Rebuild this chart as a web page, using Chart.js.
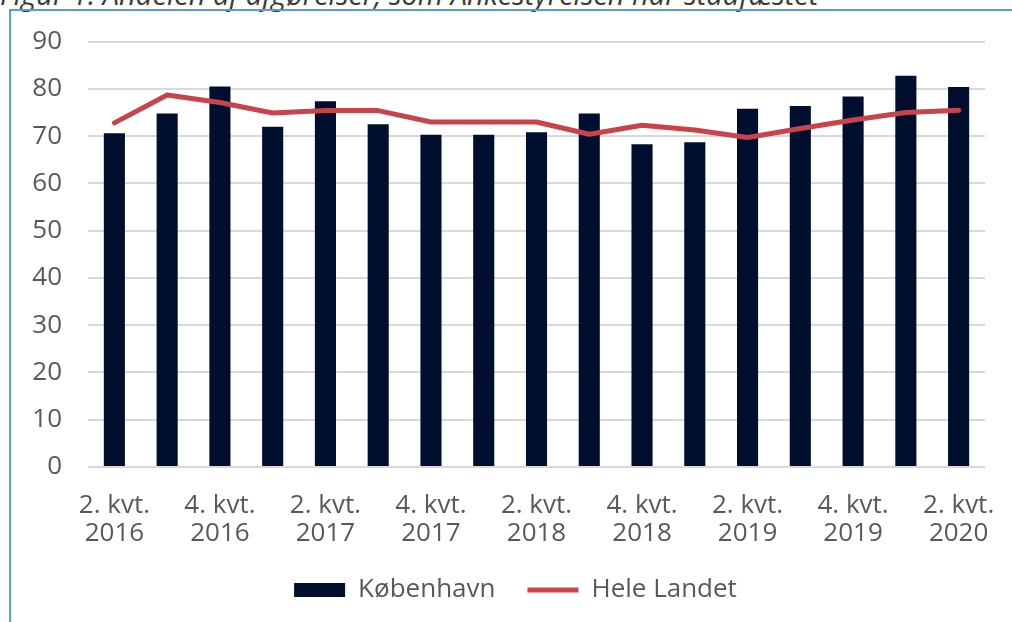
<!DOCTYPE html>
<html>
<head>
<meta charset="utf-8">
<script src="https://cdn.jsdelivr.net/npm/chart.js@4"></script>
<style>
  html, body { margin: 0; padding: 0; background: #fff; overflow: hidden; }
  #wrap { position: relative; width: 1012px; height: 622px; overflow: hidden; }
  #title {
    position: absolute; left: 0; top: -26px; white-space: nowrap; line-height: 29px;
    font: italic 29px "Open Sans", sans-serif; color: #3a3a3a;
  }
  #frame {
    position: absolute; left: 9px; top: 9px; width: 1100px; height: 700px;
    border-left: 2px solid #5b9bd5; border-top: 2px solid #5b9bd5;
  }
  #chart { position: absolute; left: 0; top: 0; }
</style>
</head>
<body>
<div id="wrap">
  <div id="title">Figur 1: Andelen af afgørelser, som Ankestyrelsen har stadfæstet</div>
  <div id="frame"></div>
  <canvas id="chart" width="1031" height="622"></canvas>
</div>
<script>
let quarters = ["2", "3", "4", "1", "2", "3", "4", "1", "2", "3", "4", "1", "2", "3", "4", "1", "2"];
let years = ["2016", "2016", "2016", "2017", "2017", "2017", "2017", "2018", "2018", "2018", "2018", "2019", "2019", "2019", "2019", "2020", "2020"];
let koebenhavn = [70.6, 74.8, 80.5, 72.0, 77.4, 72.5, 70.3, 70.3, 70.8, 74.8, 68.3, 68.7, 75.8, 76.4, 78.4, 82.8, 80.4];
let heleLandet = [72.8, 78.7, 77.1, 74.9, 75.4, 75.4, 73.0, 73.0, 73.0, 70.4, 72.3, 71.3, 69.7, 71.6, 73.4, 75.0, 75.5];

let labels = quarters.map((q, i) => [q + ". kvt.", years[i]]);
let grey = "#595959";
let font = { family: "'Open Sans', sans-serif", size: 26 };

new Chart(document.getElementById("chart"), {
  data: {
    labels: labels,
    datasets: [
      {
        type: "bar",
        label: "København",
        data: koebenhavn,
        backgroundColor: "#000f2e",
        borderWidth: 0,
        barPercentage: 0.4,
        categoryPercentage: 1,
        pointStyle: "rect",
        order: 1
      },
      {
        type: "line",
        label: "Hele Landet",
        data: heleLandet,
        borderColor: "#c9434a",
        backgroundColor: "#c9434a",
        borderWidth: 5,
        borderCapStyle: "round",
        borderJoinStyle: "round",
        pointRadius: 0,
        tension: 0,
        pointStyle: "line",
        order: 0
      }
    ]
  },
  options: {
    responsive: false,
    devicePixelRatio: 1,
    animation: false,
    layout: { padding: { left: 0, right: 0, top: 37, bottom: 9 } },
    plugins: {
      tooltip: { enabled: false },
      legend: {
        position: "bottom",
        labels: {
          usePointStyle: true,
          pointStyleWidth: 51,
          boxHeight: 14,
          padding: 32,
          color: grey,
          font: font,
          sort: (a, b) => a.datasetIndex - b.datasetIndex
        }
      }
    },
    scales: {
      x: {
        offset: true,
        grid: { display: false },
        border: { display: false },
        ticks: {
          autoSkip: false,
          maxRotation: 0,
          padding: 16,
          color: grey,
          font: { family: font.family, size: 26, lineHeight: 1.1 },
          callback: function (val, i) { return i % 2 === 0 ? labels[i] : ""; }
        },
        afterFit: scale => { scale.height = 78; }
      },
      y: {
        min: 0,
        max: 90,
        grid: { color: "#d9d9d9", lineWidth: 2, drawTicks: false },
        border: { display: false },
        ticks: { stepSize: 10, padding: 26, color: grey, font: font },
        afterFit: scale => { scale.width = 88; }
      },
      y2: {
        position: "right",
        grid: { display: false },
        border: { display: false },
        ticks: { display: false },
        afterFit: scale => { scale.width = 46; }
      }
    }
  }
});
</script>
</body>
</html>
